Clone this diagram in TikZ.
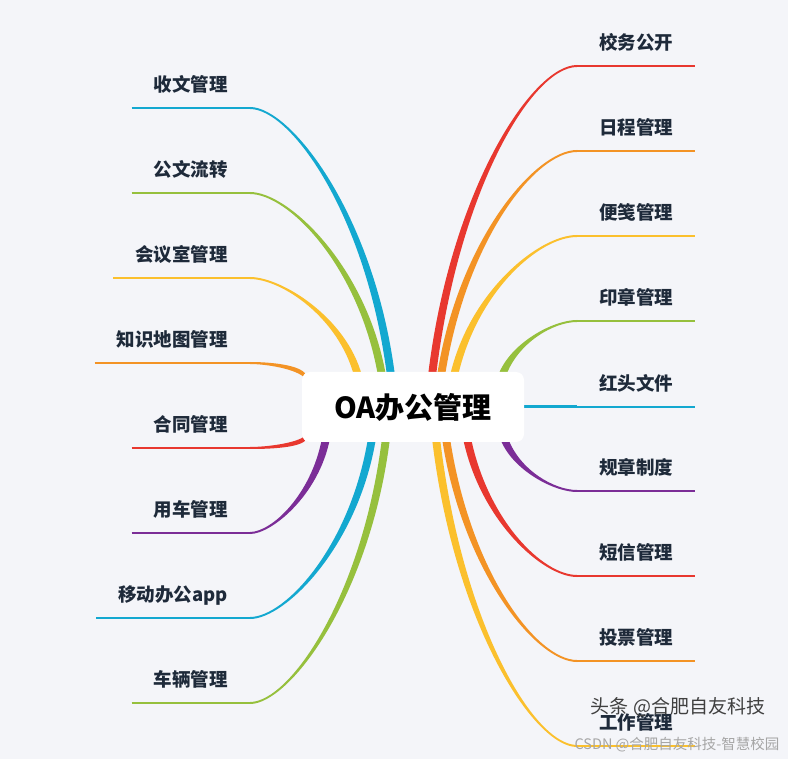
\documentclass[tikz,border=0pt]{standalone}
\usepackage{fontspec}
\usepackage{tikz}
\usetikzlibrary{calc,backgrounds}
\newfontfamily\cjk{Noto Sans CJK SC}
\definecolor{bgcolor}{RGB}{244,245,249}
\definecolor{inkcolor}{RGB}{30,42,58}
\definecolor{mmred}{RGB}{232,56,47}
\definecolor{mmorange}{RGB}{243,147,37}
\definecolor{mmyellow}{RGB}{251,192,45}
\definecolor{mmgreen}{RGB}{150,192,61}
\definecolor{mmblue}{RGB}{19,168,208}
\definecolor{mmpurple}{RGB}{123,45,151}
% tapered branch: [width at root] colour, leaf end, root end
\newcommand\twig[4][8pt,0pt]{%
  \fill[#2] let \p1=(#3), \p2=(#4), \p3=(#1), \n1={sign(\x2-\x1)*sign(\y2-\y1)} in
    (\x1,{\y1+\n1*1pt}) .. controls ({\x1+0.3*(\x2-\x1)},{\y1+\n1*1pt}) and ({\x2-0.15*(\x2-\x1)},{\y1+0.4*(\y2-\y1)}) .. (\x2,\y2)
    -- (\x2+\x3,\y2+\y3) .. controls ({\x2+\x3-0.15*(\x2-\x1)},{\y1+\y3+0.4*(\y2-\y1)}) and ({\x1+0.3*(\x2-\x1)},{\y1-\n1*1pt}) .. (\x1,{\y1-\n1*1pt}) -- cycle;}

\begin{document}
\begin{tikzpicture}[x=1pt,y=-1pt,
root/.style={fill=white,rounded corners=8pt,minimum width=222pt,minimum height=70pt,font=\cjk\bfseries\fontsize{29}{32}\selectfont},
leaf/.style={inner xsep=22pt,inner ysep=12pt,text height=14pt,text depth=4pt,font=\cjk\bfseries\fontsize{18.5}{20}\selectfont,text=inkcolor},
leafl/.style={leaf,anchor=south east},
leafr/.style={leaf,anchor=south west},
uline/.style={line width=2pt},
mark/.style={font=\cjk\fontsize{#1}{#1}\selectfont}]
\begin{scope}[on background layer]
\fill[bgcolor] (0,0) rectangle (788,759);
\end{scope}
\useasboundingbox (0,0) rectangle (788,759);

\node[root] (root) at (413,407) {OA办公管理};

\node[leafl] (shouwen) at (250,108) {收文管理};
\node[leafl] (gongwen) at (250,193) {公文流转};
\node[leafl] (huiyi) at (250,278) {会议室管理};
\node[leafl] (zhishi) at (250,363) {知识地图管理};
\node[leafl] (hetong) at (250,448) {合同管理};
\node[leafl] (yongche) at (250,533) {用车管理};
\node[leafl] (yidong) at (250,618) {移动办公app};
\node[leafl] (cheliang) at (250,703) {车辆管理};

\node[leafr] (xiaowu) at (577,66) {校务公开};
\node[leafr] (richeng) at (577,151) {日程管理};
\node[leafr] (bianjian) at (577,236) {便笺管理};
\node[leafr] (yinzhang) at (577,321) {印章管理};
\node[leafr] (hongtou) at (577,407) {红头文件};
\node[leafr] (guizhang) at (577,491) {规章制度};
\node[leafr] (duanxin) at (577,576) {短信管理};
\node[leafr] (toupiao) at (577,661) {投票管理};
\node[leafr] (gongzuo) at (577,746) {工作管理};

\draw[uline,mmblue] (shouwen.south west) -- (shouwen.south east);
\draw[uline,mmgreen] (gongwen.south west) -- (gongwen.south east);
\draw[uline,mmyellow] (huiyi.south west) -- (huiyi.south east);
\draw[uline,mmorange] (zhishi.south west) -- (zhishi.south east);
\draw[uline,mmred] (hetong.south west) -- (hetong.south east);
\draw[uline,mmpurple] (yongche.south west) -- (yongche.south east);
\draw[uline,mmblue] (yidong.south west) -- (yidong.south east);
\draw[uline,mmgreen] (cheliang.south west) -- (cheliang.south east);
\draw[uline,mmred] (xiaowu.south west) -- (xiaowu.south east);
\draw[uline,mmorange] (richeng.south west) -- (richeng.south east);
\draw[uline,mmyellow] (bianjian.south west) -- (bianjian.south east);
\draw[uline,mmgreen] (yinzhang.south west) -- (yinzhang.south east);
\draw[uline,mmblue] (hongtou.south west) -- (hongtou.south east);
\draw[uline,mmpurple] (guizhang.south west) -- (guizhang.south east);
\draw[uline,mmred] (duanxin.south west) -- (duanxin.south east);
\draw[uline,mmorange] (toupiao.south west) -- (toupiao.south east);
\draw[uline,mmyellow] (gongzuo.south west) -- (gongzuo.south east);

\begin{scope}[on background layer]
\twig{mmblue}{shouwen.south east}{$(root.north)+(-26,4)$}
\twig{mmgreen}{gongwen.south east}{$(root.north)+(-35,4)$}
\twig{mmyellow}{huiyi.south east}{$(root.north)+(-59,4)$}
\twig[0pt,5pt]{mmorange}{zhishi.south east}{$(root.west)+(3,-29)$}
\twig[0pt,-5pt]{mmred}{hetong.south east}{$(root.west)+(3,29)$}
\twig{mmpurple}{yongche.south east}{$(root.south)+(-91,-4)$}
\twig{mmblue}{yidong.south east}{$(root.south)+(-45,-4)$}
\twig{mmgreen}{cheliang.south east}{$(root.south)+(-31,-4)$}
\twig{mmred}{xiaowu.south west}{$(root.north)+(15,4)$}
\twig{mmorange}{richeng.south west}{$(root.north)+(24,4)$}
\twig{mmyellow}{bianjian.south west}{$(root.north)+(37,4)$}
\twig{mmgreen}{yinzhang.south west}{$(root.north)+(85,4)$}
\draw[mmblue,line width=3pt] (root.east) -- (hongtou.south west);
\twig{mmpurple}{guizhang.south west}{$(root.south)+(87,-4)$}
\twig{mmred}{duanxin.south west}{$(root.south)+(50,-4)$}
\twig{mmorange}{toupiao.south west}{$(root.south)+(29,-4)$}
\twig{mmyellow}{gongzuo.south west}{$(root.south)+(19,-4)$}
\end{scope}

\node[mark=19,text=black!75] (wm1) at (678,707) {头条 @合肥自友科技};
\node[mark=14.5,text=black!35] (wm2) at (677,745) {CSDN @合肥自友科技-智慧校园};
\end{tikzpicture}
\end{document}
